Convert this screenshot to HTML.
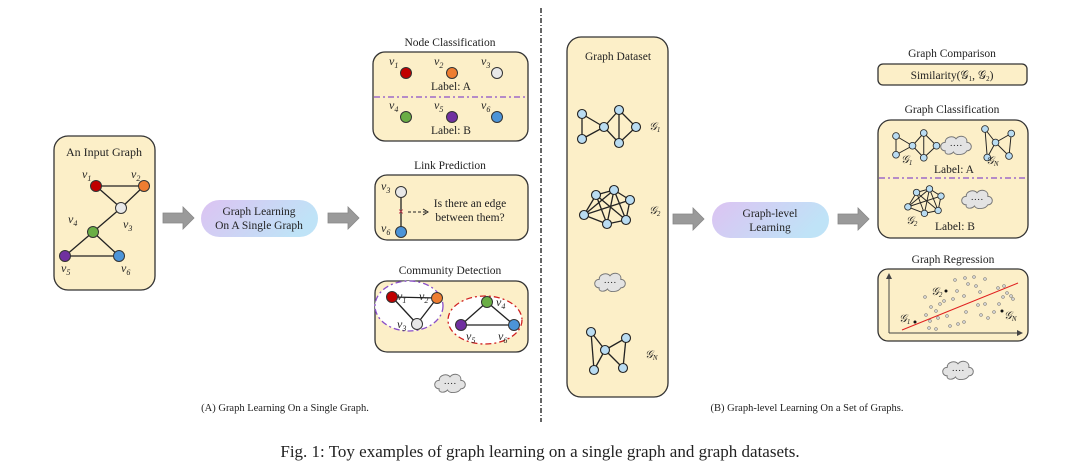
<!DOCTYPE html>
<html><head><meta charset="utf-8"><style>
html,body{margin:0;padding:0;background:#fff;}
svg{display:block;}
text{font-family:"Liberation Serif",serif;fill:#222;}
.t{font-size:11.5px;text-anchor:middle;}
.v{font-size:12px;font-style:italic;}
.box{fill:#fcefc8;stroke:#333;stroke-width:1.3;}
.e{stroke:#222;stroke-width:1.3;}
.n{stroke:#333;stroke-width:1;}
.b{fill:#b9dcf2;stroke:#222;stroke-width:1.1;}
</style></head><body>
<svg width="1080" height="475" viewBox="0 0 1080 475" xmlns="http://www.w3.org/2000/svg">
<defs>
<linearGradient id="pg" x1="0" y1="0" x2="1" y2="0.3">
<stop offset="0" stop-color="#dcc3f2"/><stop offset="1" stop-color="#bfe3f7"/></linearGradient>
<g id="arr"><polygon points="0,-5 20,-5 20,-11 31,0 20,11 20,5 0,5" fill="#9a9a9a" stroke="#888" stroke-width="0.8"/></g>
<g id="cloud"><g transform="scale(1.2)"><path d="M-9,4 C-14,4 -14,-3 -9,-3 C-9,-8 -2,-9 0,-6 C3,-10 10,-8 9,-3 C14,-3 14,4 9,4 C7,8 -1,8 -2,5 C-5,8 -10,7 -9,4 Z" fill="#e3e3e3" stroke="#777" stroke-width="0.8"/><text x="0" y="2" style="font-size:8px;text-anchor:middle">····</text></g></g>
<g id="g1">
<line class="e" x1="582" y1="114" x2="582" y2="139"/><line class="e" x1="582" y1="114" x2="604" y2="127"/><line class="e" x1="582" y1="139" x2="604" y2="127"/><line class="e" x1="604" y1="127" x2="619" y2="110"/><line class="e" x1="604" y1="127" x2="619" y2="143"/><line class="e" x1="619" y1="110" x2="619" y2="143"/><line class="e" x1="619" y1="110" x2="636" y2="127"/><line class="e" x1="619" y1="143" x2="636" y2="127"/>
<circle class="b" cx="582" cy="114" r="4.5"/><circle class="b" cx="582" cy="139" r="4.5"/><circle class="b" cx="604" cy="127" r="4.5"/><circle class="b" cx="619" cy="110" r="4.5"/><circle class="b" cx="636" cy="127" r="4.5"/><circle class="b" cx="619" cy="143" r="4.5"/>
</g>
<g id="g2">
<line class="e" x1="596" y1="195" x2="614" y2="190"/><line class="e" x1="614" y1="190" x2="630" y2="200"/><line class="e" x1="630" y1="200" x2="626" y2="220"/><line class="e" x1="626" y1="220" x2="607" y2="224"/><line class="e" x1="607" y1="224" x2="584" y2="215"/><line class="e" x1="584" y1="215" x2="596" y2="195"/><line class="e" x1="596" y1="195" x2="607" y2="224"/><line class="e" x1="614" y1="190" x2="607" y2="224"/><line class="e" x1="614" y1="190" x2="626" y2="220"/><line class="e" x1="584" y1="215" x2="630" y2="200"/><line class="e" x1="596" y1="195" x2="626" y2="220"/><line class="e" x1="584" y1="215" x2="614" y2="190"/>
<circle class="b" cx="596" cy="195" r="4.5"/><circle class="b" cx="614" cy="190" r="4.5"/><circle class="b" cx="630" cy="200" r="4.5"/><circle class="b" cx="626" cy="220" r="4.5"/><circle class="b" cx="607" cy="224" r="4.5"/><circle class="b" cx="584" cy="215" r="4.5"/>
</g>
<g id="gn">
<line class="e" x1="591" y1="332" x2="605" y2="350"/><line class="e" x1="591" y1="332" x2="594" y2="370"/><line class="e" x1="605" y1="350" x2="626" y2="338"/><line class="e" x1="605" y1="350" x2="594" y2="370"/><line class="e" x1="605" y1="350" x2="623" y2="368"/><line class="e" x1="626" y1="338" x2="623" y2="368"/>
<circle class="b" cx="591" cy="332" r="4.5"/><circle class="b" cx="605" cy="350" r="4.5"/><circle class="b" cx="626" cy="338" r="4.5"/><circle class="b" cx="623" cy="368" r="4.5"/><circle class="b" cx="594" cy="370" r="4.5"/>
</g>
</defs>

<!-- Left: input graph -->
<rect class="box" x="54" y="136" width="101" height="154" rx="14"/>
<text class="t" x="104" y="156" style="font-size:12px">An Input Graph</text>
<line class="e" x1="96" y1="186" x2="144" y2="186"/><line class="e" x1="96" y1="186" x2="121" y2="208"/><line class="e" x1="144" y1="186" x2="121" y2="208"/><line class="e" x1="121" y1="208" x2="93" y2="232"/><line class="e" x1="93" y1="232" x2="65" y2="256"/><line class="e" x1="93" y1="232" x2="119" y2="256"/><line class="e" x1="65" y1="256" x2="119" y2="256"/>
<circle class="n" cx="96" cy="186" r="5.5" fill="#c00000"/><circle class="n" cx="144" cy="186" r="5.5" fill="#ee7d31"/><circle class="n" cx="121" cy="208" r="5.5" fill="#e8e8e8"/><circle class="n" cx="93" cy="232" r="5.5" fill="#6aae45"/><circle class="n" cx="65" cy="256" r="5.5" fill="#7030a0"/><circle class="n" cx="119" cy="256" r="5.5" fill="#4c94d8"/>
<text class="v" x="82" y="178">v<tspan style="font-size:8px" dy="3">1</tspan></text>
<text class="v" x="131" y="178">v<tspan style="font-size:8px" dy="3">2</tspan></text>
<text class="v" x="123" y="228">v<tspan style="font-size:8px" dy="3">3</tspan></text>
<text class="v" x="68" y="223">v<tspan style="font-size:8px" dy="3">4</tspan></text>
<text class="v" x="61" y="272">v<tspan style="font-size:8px" dy="3">5</tspan></text>
<text class="v" x="121" y="272">v<tspan style="font-size:8px" dy="3">6</tspan></text>

<use href="#arr" x="163" y="218"/>
<rect x="201" y="200" width="117" height="37" rx="18.5" fill="url(#pg)"/>
<text class="t" x="259" y="215">Graph Learning</text>
<text class="t" x="259" y="229">On A Single Graph</text>
<use href="#arr" x="328" y="218"/>

<!-- Node classification -->
<text class="t" x="450" y="46">Node Classification</text>
<rect class="box" x="373" y="52" width="155" height="89" rx="12"/>
<circle class="n" cx="406" cy="73" r="5.5" fill="#c00000"/><circle class="n" cx="452" cy="73" r="5.5" fill="#ee7d31"/><circle class="n" cx="497" cy="73" r="5.5" fill="#e8e8e8"/>
<text class="v" x="389" y="65">v<tspan style="font-size:8px" dy="3">1</tspan></text>
<text class="v" x="434" y="65">v<tspan style="font-size:8px" dy="3">2</tspan></text>
<text class="v" x="481" y="65">v<tspan style="font-size:8px" dy="3">3</tspan></text>
<text class="t" x="451" y="90">Label: A</text>
<line x1="374" y1="97" x2="527" y2="97" stroke="#8a4fc8" stroke-width="1.2" stroke-dasharray="6,3,2,3"/>
<circle class="n" cx="406" cy="117" r="5.5" fill="#6aae45"/><circle class="n" cx="452" cy="117" r="5.5" fill="#7030a0"/><circle class="n" cx="497" cy="117" r="5.5" fill="#4c94d8"/>
<text class="v" x="389" y="109">v<tspan style="font-size:8px" dy="3">4</tspan></text>
<text class="v" x="434" y="109">v<tspan style="font-size:8px" dy="3">5</tspan></text>
<text class="v" x="481" y="109">v<tspan style="font-size:8px" dy="3">6</tspan></text>
<text class="t" x="451" y="134">Label: B</text>

<!-- Link prediction -->
<text class="t" x="450" y="169">Link Prediction</text>
<rect class="box" x="375" y="175" width="153" height="65" rx="12"/>
<line class="e" x1="401" y1="192" x2="401" y2="232"/>
<circle class="n" cx="401" cy="192" r="5.5" fill="#e8e8e8"/><circle class="n" cx="401" cy="232" r="5.5" fill="#4c94d8"/>
<text x="401" y="215" style="font-size:10px;text-anchor:middle;fill:#c0304a;font-weight:bold">×</text>
<text class="v" x="381" y="190">v<tspan style="font-size:8px" dy="3">3</tspan></text>
<text class="v" x="381" y="232">v<tspan style="font-size:8px" dy="3">6</tspan></text>
<line x1="408" y1="212" x2="426" y2="212" stroke="#222" stroke-width="1" stroke-dasharray="3,2"/>
<polyline points="423,209 428,212 423,215" fill="none" stroke="#222" stroke-width="1"/>
<text class="t" x="470" y="207">Is there an edge</text>
<text class="t" x="470" y="221">between them?</text>

<!-- Community detection -->
<text class="t" x="450" y="274">Community Detection</text>
<rect class="box" x="375" y="281" width="153" height="71" rx="12"/>
<ellipse cx="409" cy="306" rx="34" ry="25" fill="#fff" stroke="#8a4fc8" stroke-width="1.3" stroke-dasharray="6,3,2,3"/>
<ellipse cx="485" cy="320" rx="37" ry="24" fill="#fff" stroke="#d02020" stroke-width="1.3" stroke-dasharray="6,3,2,3"/>
<line class="e" x1="392" y1="297" x2="437" y2="298"/><line class="e" x1="392" y1="297" x2="417" y2="324"/><line class="e" x1="437" y1="298" x2="417" y2="324"/>
<line class="e" x1="487" y1="302" x2="461" y2="325"/><line class="e" x1="487" y1="302" x2="514" y2="325"/><line class="e" x1="461" y1="325" x2="514" y2="325"/>
<circle class="n" cx="392" cy="297" r="5.5" fill="#c00000"/><circle class="n" cx="437" cy="298" r="5.5" fill="#ee7d31"/><circle class="n" cx="417" cy="324" r="5.5" fill="#e8e8e8"/>
<circle class="n" cx="487" cy="302" r="5.5" fill="#6aae45"/><circle class="n" cx="461" cy="325" r="5.5" fill="#7030a0"/><circle class="n" cx="514" cy="325" r="5.5" fill="#4c94d8"/>
<text class="v" x="397" y="300">v<tspan style="font-size:8px" dy="3">1</tspan></text>
<text class="v" x="419" y="300">v<tspan style="font-size:8px" dy="3">2</tspan></text>
<text class="v" x="397" y="328">v<tspan style="font-size:8px" dy="3">3</tspan></text>
<text class="v" x="496" y="306">v<tspan style="font-size:8px" dy="3">4</tspan></text>
<text class="v" x="466" y="340">v<tspan style="font-size:8px" dy="3">5</tspan></text>
<text class="v" x="498" y="340">v<tspan style="font-size:8px" dy="3">6</tspan></text>
<use href="#cloud" x="450" y="384"/>

<text class="t" x="285" y="411" style="font-size:10.5px">(A) Graph Learning On a Single Graph.</text>

<line x1="541" y1="8" x2="541" y2="422" stroke="#333" stroke-width="1.5" stroke-dasharray="5,2,1,2"/>

<!-- Graph dataset -->
<rect class="box" x="567" y="37" width="101" height="360" rx="14"/>
<text class="t" x="618" y="60">Graph Dataset</text>
<use href="#g1"/><use href="#g2"/><use href="#gn"/>
<use href="#cloud" x="610" y="283"/>
<text class="v" x="649" y="130" style="font-size:11px">𝒢<tspan style="font-size:7px" dy="2">1</tspan></text>
<text class="v" x="649" y="214" style="font-size:11px">𝒢<tspan style="font-size:7px" dy="2">2</tspan></text>
<text class="v" x="645" y="358" style="font-size:11px">𝒢<tspan style="font-size:7px" dy="2">N</tspan></text>

<use href="#arr" x="673" y="219"/>
<rect x="712" y="202" width="117" height="36" rx="18" fill="url(#pg)"/>
<text class="t" x="770" y="217">Graph-level</text>
<text class="t" x="770" y="231">Learning</text>
<use href="#arr" x="838" y="219"/>

<!-- Graph comparison -->
<text class="t" x="952" y="57">Graph Comparison</text>
<rect class="box" x="878" y="64" width="149" height="21" rx="5"/>
<text class="t" x="952" y="79">Similarity(𝒢<tspan style="font-size:7px" dy="2">1</tspan><tspan dy="-2">, 𝒢</tspan><tspan style="font-size:7px" dy="2">2</tspan><tspan dy="-2">)</tspan></text>

<!-- Graph classification -->
<text class="t" x="952" y="113">Graph Classification</text>
<rect class="box" x="878" y="120" width="150" height="118" rx="13"/>
<g transform="translate(893,130) scale(0.75) translate(-578,-106)"><use href="#g1"/></g>
<g transform="translate(982,126) scale(0.75) translate(-587,-328)"><use href="#gn"/></g>
<g transform="translate(905,186) scale(0.72) translate(-580,-186)"><use href="#g2"/></g>
<use href="#cloud" x="956" y="146"/>
<use href="#cloud" x="977" y="200"/>
<text class="v" x="901" y="163" style="font-size:11px">𝒢<tspan style="font-size:7px" dy="2">1</tspan></text>
<text class="v" x="986" y="164" style="font-size:11px">𝒢<tspan style="font-size:7px" dy="2">N</tspan></text>
<text class="v" x="906" y="224" style="font-size:11px">𝒢<tspan style="font-size:7px" dy="2">2</tspan></text>
<text class="t" x="954" y="173">Label: A</text>
<line x1="879" y1="178" x2="1027" y2="178" stroke="#8a4fc8" stroke-width="1.2" stroke-dasharray="6,3,2,3"/>
<text class="t" x="955" y="230">Label: B</text>

<!-- Graph regression -->
<text class="t" x="953" y="263">Graph Regression</text>
<rect class="box" x="878" y="269" width="150" height="72" rx="10"/>
<line x1="889" y1="333" x2="889" y2="276" stroke="#444" stroke-width="1"/><polygon points="886,279 889,273 892,279" fill="#444"/>
<line x1="889" y1="333" x2="1020" y2="333" stroke="#444" stroke-width="1"/><polygon points="1017,330 1023,333 1017,336" fill="#444"/>
<g fill="#f3f3f3" stroke="#777" stroke-width="0.7">
<circle cx="955" cy="280" r="1.3"/><circle cx="965" cy="278" r="1.3"/><circle cx="974" cy="277" r="1.3"/><circle cx="985" cy="279" r="1.3"/><circle cx="968" cy="284" r="1.3"/><circle cx="976" cy="286" r="1.3"/><circle cx="998" cy="288" r="1.3"/><circle cx="1004" cy="286" r="1.3"/><circle cx="1007" cy="293" r="1.3"/><circle cx="1011" cy="296" r="1.3"/><circle cx="1013" cy="299" r="1.3"/><circle cx="1003" cy="297" r="1.3"/><circle cx="980" cy="292" r="1.3"/><circle cx="964" cy="296" r="1.3"/><circle cx="953" cy="299" r="1.3"/><circle cx="944" cy="301" r="1.3"/><circle cx="940" cy="304" r="1.3"/><circle cx="925" cy="297" r="1.3"/><circle cx="931" cy="307" r="1.3"/><circle cx="936" cy="311" r="1.3"/><circle cx="926" cy="315" r="1.3"/><circle cx="930" cy="321" r="1.3"/><circle cx="938" cy="318" r="1.3"/><circle cx="947" cy="316" r="1.3"/><circle cx="950" cy="326" r="1.3"/><circle cx="958" cy="324" r="1.3"/><circle cx="964" cy="322" r="1.3"/><circle cx="966" cy="312" r="1.3"/><circle cx="978" cy="305" r="1.3"/><circle cx="985" cy="304" r="1.3"/><circle cx="981" cy="315" r="1.3"/><circle cx="988" cy="318" r="1.3"/><circle cx="994" cy="312" r="1.3"/><circle cx="999" cy="304" r="1.3"/><circle cx="929" cy="328" r="1.3"/><circle cx="936" cy="329" r="1.3"/><circle cx="957" cy="291" r="1.3"/>
</g>
<line x1="902" y1="330" x2="1018" y2="283" stroke="#e02020" stroke-width="1"/>
<circle cx="915" cy="322" r="1.5" fill="#111"/><circle cx="946" cy="291" r="1.5" fill="#111"/><circle cx="1002" cy="311" r="1.5" fill="#111"/>
<text class="v" x="899" y="322" style="font-size:11px">𝒢<tspan style="font-size:7px" dy="2">1</tspan></text>
<text class="v" x="931" y="295" style="font-size:11px">𝒢<tspan style="font-size:7px" dy="2">2</tspan></text>
<text class="v" x="1004" y="319" style="font-size:11px">𝒢<tspan style="font-size:7px" dy="2">N</tspan></text>
<use href="#cloud" x="958" y="371"/>

<text class="t" x="807" y="411" style="font-size:10.5px">(B) Graph-level Learning On a Set of Graphs.</text>

<text x="540" y="457" style="font-size:17px;text-anchor:middle">Fig. 1: Toy examples of graph learning on a single graph and graph datasets.</text>
</svg>
</body></html>
